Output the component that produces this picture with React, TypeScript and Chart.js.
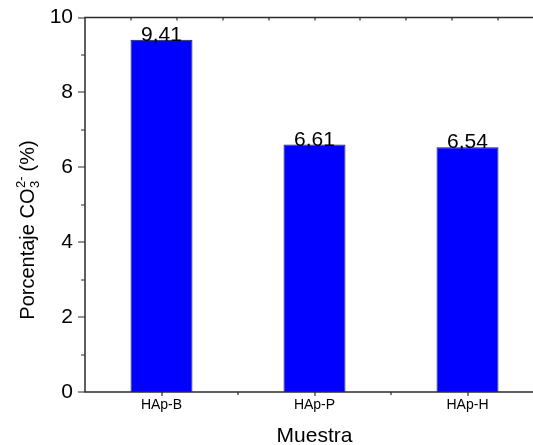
import React, { useEffect, useRef } from "react";
import { Chart, registerables } from "chart.js";

Chart.register(...registerables);

// Carbonate content per sample
const samples = ["HAp-B", "HAp-P", "HAp-H"];
const carbonatePct = [9.41, 6.61, 6.54];

// Axis ticks
const yMajorTicks = [0, 2, 4, 6, 8, 10];
const yMinorTicks = [1, 3, 5, 7, 9];

// Titles
const xAxisTitle = "Muestra";
const yTitleMain = "Porcentaje CO";
const yTitleSub = "3";
const yTitleSup = "2-";
const yTitleTail = " (%)";

const FONT = "'Liberation Sans', Arial, sans-serif";
const AXIS_COLOR = "#2b2b2b";

const formatValue = (v: number) => v.toFixed(2).replace(".", ",");

const framePlugin = {
  id: "originFrame",
  afterDatasetsDraw(chart: any) {
    const { ctx, chartArea } = chart;
    const x = chart.scales.x;
    const y = chart.scales.y;
    const { left, right, top, bottom } = chartArea;

    ctx.save();
    ctx.strokeStyle = AXIS_COLOR;
    ctx.lineWidth = 1.5;
    ctx.lineCap = "butt";

    // box
    ctx.beginPath();
    ctx.moveTo(left, top);
    ctx.lineTo(right, top);
    ctx.lineTo(right, bottom);
    ctx.lineTo(left, bottom);
    ctx.closePath();
    ctx.stroke();

    // y ticks (outward)
    ctx.lineWidth = 1.2;
    ctx.beginPath();
    yMajorTicks.forEach((v) => {
      const py = Math.round(y.getPixelForValue(v)) + 0.0;
      ctx.moveTo(left - 7, py);
      ctx.lineTo(left, py);
    });
    yMinorTicks.forEach((v) => {
      const py = Math.round(y.getPixelForValue(v));
      ctx.moveTo(left - 4, py);
      ctx.lineTo(left, py);
    });
    ctx.stroke();

    // bottom x ticks: category centres and boundaries
    ctx.beginPath();
    for (let i = 0; i < samples.length; i++) {
      const pc = Math.round(x.getPixelForValue(i));
      ctx.moveTo(pc, bottom);
      ctx.lineTo(pc, bottom + 4);
      if (i < samples.length - 1) {
        const pb = Math.round(x.getPixelForValue(i + 0.5));
        ctx.moveTo(pb, bottom);
        ctx.lineTo(pb, bottom + 3);
      }
    }
    // top mirrored ticks
    for (let v = -0.5 + 0.3; v < samples.length - 0.5 - 0.01; v += 0.3) {
      const pt = Math.round(x.getPixelForValue(v));
      ctx.moveTo(pt, top);
      ctx.lineTo(pt, top + 3);
    }
    ctx.stroke();

    // value labels on bars
    ctx.fillStyle = "#000";
    ctx.font = `21px ${FONT}`;
    ctx.textAlign = "center";
    ctx.textBaseline = "alphabetic";
    const meta = chart.getDatasetMeta(0);
    meta.data.forEach((bar: any, i: number) => {
      ctx.fillText(formatValue(carbonatePct[i]), bar.x, bar.y + 1);
    });

    // x axis title
    ctx.font = `21px ${FONT}`;
    ctx.fillText(xAxisTitle, (left + right) / 2, 442);

    // y axis title with sub/superscript
    const mainFont = `20px ${FONT}`;
    const smallFont = `13px ${FONT}`;
    ctx.font = mainFont;
    const wMain = ctx.measureText(yTitleMain).width;
    const wTail = ctx.measureText(yTitleTail).width;
    ctx.font = smallFont;
    const wScript = Math.max(
      ctx.measureText(yTitleSub).width,
      ctx.measureText(yTitleSup).width
    );
    const total = wMain + wScript + wTail;
    ctx.translate(34, 230);
    ctx.rotate(-Math.PI / 2);
    ctx.textAlign = "left";
    let cx = -total / 2;
    ctx.font = mainFont;
    ctx.fillText(yTitleMain, cx, 0);
    cx += wMain;
    ctx.font = smallFont;
    ctx.fillText(yTitleSub, cx + 0.5, 5);
    ctx.fillText(yTitleSup, cx + 0.5, -9);
    cx += wScript;
    ctx.font = mainFont;
    ctx.fillText(yTitleTail, cx, 0);
    ctx.restore();
  },
};

export default function App() {
  const canvasRef = useRef<HTMLCanvasElement | null>(null);

  useEffect(() => {
    const canvas = canvasRef.current;
    if (!canvas) return;
    const chart = new Chart(canvas, {
      type: "bar",
      data: {
        labels: samples,
        datasets: [
          {
            data: carbonatePct,
            backgroundColor: "#0000ff",
            borderColor: "#1a1a55",
            borderWidth: 1,
            categoryPercentage: 1,
            barPercentage: 0.405,
          },
        ],
      },
      options: {
        responsive: false,
        animation: false,
        devicePixelRatio: 1,
        layout: { padding: { left: 0, right: 16, top: 16, bottom: 0 } },
        plugins: {
          legend: { display: false },
          tooltip: { enabled: false },
        },
        scales: {
          x: {
            grid: { display: false, drawTicks: true, tickLength: 4 },
            border: { display: false },
            ticks: {
              color: "#000",
              font: { family: FONT, size: 14 },
              padding: 1,
              maxRotation: 0,
            },
            afterFit: (scale: any) => {
              scale.height = 53;
            },
          },
          y: {
            min: 0,
            max: 10,
            grid: { display: false, drawTicks: true, tickLength: 7 },
            border: { display: false },
            ticks: {
              stepSize: 2,
              color: "#000",
              font: { family: FONT, size: 21 },
              padding: 5,
            },
            afterFit: (scale: any) => {
              scale.width = 85;
            },
          },
        },
      },
      plugins: [framePlugin],
    });
    return () => chart.destroy();
  }, []);

  return (
    <div
      style={{
        position: "fixed",
        left: 0,
        top: 0,
        width: 533,
        height: 445,
        overflow: "hidden",
        background: "#fff",
      }}
    >
      <canvas ref={canvasRef} width={560} height={445} />
    </div>
  );
}
